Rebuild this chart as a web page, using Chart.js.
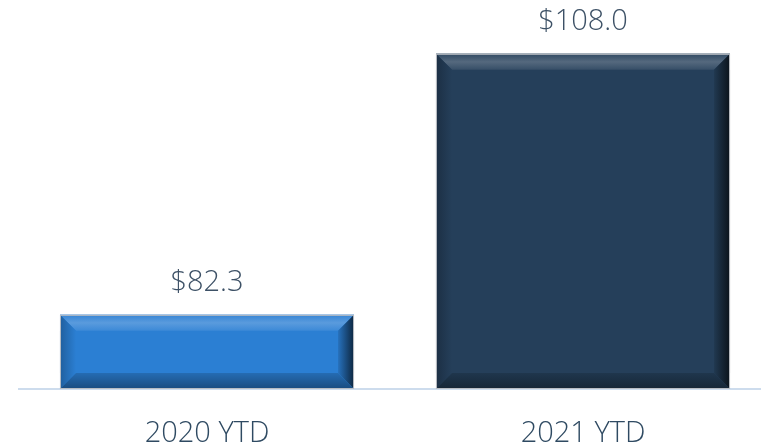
<!DOCTYPE html>
<html>
<head>
<meta charset="utf-8">
<script src="https://cdn.jsdelivr.net/npm/chart.js@4"></script>
<style>
html,body{margin:0;padding:0;background:#fff;}
#wrap{width:761px;height:447px;position:relative;}
</style>
</head>
<body>
<div id="wrap"><canvas id="c" width="761" height="447"></canvas></div>
<script>
const categories = ["2020 YTD", "2021 YTD"];
const values = [82.3, 108.0];
const valueLabels = ["$82.3", "$108.0"];
const barColors = ["#2b7fd3", "#253f5a"];
const axisMin = 75;
const axisMax = 113.3;

function shade(hex, amt) {
  const n = parseInt(hex.slice(1), 16);
  let r = (n >> 16) & 255, g = (n >> 8) & 255, b = n & 255;
  const f = c => Math.max(0, Math.min(255, Math.round(amt >= 0 ? c + (255 - c) * amt : c * (1 + amt))));
  return `rgb(${f(r)},${f(g)},${f(b)})`;
}

const widenPlugin = {
  id: 'widen',
  afterLayout(chart) {
    const x = chart.scales.x;
    x.right = 771;
    x.width = x.right - x.left;
    x.configure();
    chart.chartArea.right = 771;
    chart.chartArea.width = 771 - chart.chartArea.left;
  }
};

const bevelPlugin = {
  id: 'bevel',
  afterDatasetsDraw(chart) {
    const ctx = chart.ctx;
    const meta = chart.getDatasetMeta(0);
    meta.data.forEach((bar, i) => {
      const p = bar.getProps(['x', 'y', 'base', 'width'], true);
      const l = p.x - p.width / 2, r = p.x + p.width / 2, t = p.y, b = p.base;
      const s = 16;
      const col = barColors[i];
      ctx.save();
      let g = ctx.createLinearGradient(0, t, 0, t + s);
      g.addColorStop(0, shade(col, 0.05));
      g.addColorStop(0.5, shade(col, 0.22));
      g.addColorStop(1, shade(col, 0.08));
      ctx.fillStyle = g;
      ctx.beginPath(); ctx.moveTo(l, t); ctx.lineTo(r, t); ctx.lineTo(r - s, t + s); ctx.lineTo(l + s, t + s); ctx.closePath(); ctx.fill();
      g = ctx.createLinearGradient(l, 0, l + s, 0);
      g.addColorStop(0, shade(col, -0.25));
      g.addColorStop(1, shade(col, 0.0));
      ctx.fillStyle = g;
      ctx.beginPath(); ctx.moveTo(l, t); ctx.lineTo(l + s, t + s); ctx.lineTo(l + s, b - s); ctx.lineTo(l, b); ctx.closePath(); ctx.fill();
      g = ctx.createLinearGradient(r - s, 0, r, 0);
      g.addColorStop(0, shade(col, -0.1));
      g.addColorStop(1, shade(col, -0.7));
      ctx.fillStyle = g;
      ctx.beginPath(); ctx.moveTo(r, t); ctx.lineTo(r, b); ctx.lineTo(r - s, b - s); ctx.lineTo(r - s, t + s); ctx.closePath(); ctx.fill();
      g = ctx.createLinearGradient(0, b - s, 0, b);
      g.addColorStop(0, shade(col, -0.15));
      g.addColorStop(1, shade(col, -0.4));
      ctx.fillStyle = g;
      ctx.beginPath(); ctx.moveTo(l, b); ctx.lineTo(l + s, b - s); ctx.lineTo(r - s, b - s); ctx.lineTo(r, b); ctx.closePath(); ctx.fill();
      ctx.strokeStyle = '#b8bcc2';
      ctx.lineWidth = 1;
      ctx.strokeRect(l + 0.5, t + 0.5, r - l - 1, b - t - 1);
      ctx.fillStyle = '#3d5166';
      ctx.font = '300 29px "Open Sans"';
      ctx.textAlign = 'center';
      ctx.textBaseline = 'middle';
      ctx.fillText(valueLabels[i], p.x, t - 32);
      ctx.restore();
    });
  }
};

new Chart(document.getElementById('c'), {
  type: 'bar',
  data: {
    labels: categories,
    datasets: [{
      data: values,
      base: axisMin,
      backgroundColor: barColors,
      borderWidth: 0,
      barPercentage: 0.782,
      categoryPercentage: 1.0
    }]
  },
  options: {
    responsive: false,
    animation: false,
    layout: { padding: { left: 19, right: 0, top: 0, bottom: 0 } },
    plugins: { legend: { display: false }, tooltip: { enabled: false } },
    scales: {
      x: {
        grid: { display: false },
        border: { display: true, color: '#cddced', width: 2 },
        ticks: { color: '#2f4a62', font: { family: 'Open Sans', size: 29, weight: 300 }, padding: 19 },
        afterFit(s) { s.height = 58; }
      },
      y: {
        display: false,
        min: axisMin,
        max: axisMax
      }
    }
  },
  plugins: [widenPlugin, bevelPlugin]
});
</script>
</body>
</html>
